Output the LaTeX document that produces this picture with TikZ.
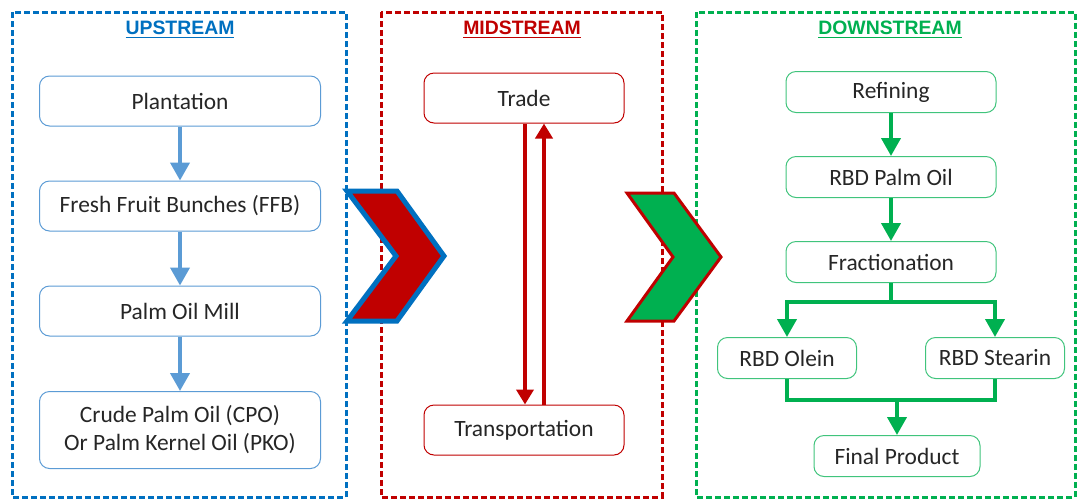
\documentclass[tikz,border=0pt]{standalone}
\usepackage{fontspec}
\setmainfont{Carlito}
\newfontfamily\headfont{Liberation Sans}
\usetikzlibrary{arrows.meta}

\definecolor{upblue}{HTML}{0070C0}
\definecolor{arrowblue}{HTML}{5B9BD5}
\definecolor{midred}{HTML}{C00000}
\definecolor{downgreen}{HTML}{00B050}
\definecolor{boxtext}{HTML}{262626}

\begin{document}
\begin{tikzpicture}[x=0.5pt, y=-0.5pt,
    stage/.style={line width=1.5pt, dash pattern=on 3pt off 1.5pt},
    header/.style={font=\headfont\bfseries\fontsize{9.7}{11}\selectfont},
    stepnode/.style={draw, rounded corners=5pt, line width=0.5pt, fill=white,
        text=boxtext, align=center, inner sep=0pt,
        font=\fontsize{11.7}{14}\selectfont},
    upbox/.style={stepnode, draw=arrowblue, minimum width=140.5pt, minimum height=25pt},
    midbox/.style={stepnode, draw=midred, minimum width=100pt, minimum height=25pt},
    downbox/.style={stepnode, draw=downgreen!75, minimum height=20.5pt},
    uparrow/.style={arrowblue, line width=2pt, -{Triangle[width=9.5pt,length=9pt]}},
    midarrow/.style={midred, line width=2pt, -{Triangle[width=8.5pt,length=7.5pt]}},
    greenline/.style={downgreen, line width=2pt},
    greenarrow/.style={greenline, -{Triangle[width=9.5pt,length=9pt]}}
]

    \useasboundingbox (0,0) rectangle (1078,500);

    % Draw stage frames
    \draw[stage, upblue] (12,12) rectangle (346,497);
    \draw[stage, midred] (381,12) rectangle (662,497);
    \draw[stage, downgreen] (696,12) rectangle (1075,497);

    \node[header, text=upblue] (uphead) at (180,30) {\underline{UPSTREAM}};
    \node[header, text=midred] (midhead) at (522,30) {\underline{MIDSTREAM}};
    \node[header, text=downgreen] (downhead) at (890,30) {\underline{DOWNSTREAM}};

    % Upstream chain
    \node[upbox] (plant) at (180,101) {Plantation};
    \node[upbox] (ffb) at (180,206) {Fresh Fruit Bunches (FFB)};
    \node[upbox] (mill) at (180,311) {Palm Oil Mill};
    \node[upbox, minimum height=38.5pt] (cpo) at (180,430)
        {Crude Palm Oil (CPO)\\Or Palm Kernel Oil (PKO)};

    \foreach \a/\b in {plant/ffb, ffb/mill, mill/cpo}
        \draw[uparrow] (\a) -- (\b);

    % Midstream
    \node[midbox] (trade) at (524,98) {Trade};
    \node[midbox] (transport) at (524,430) {Transportation};

    \draw[midarrow] ([xshift=0.5pt]trade.south) -- ([xshift=0.5pt]transport.north);
    \draw[midarrow] ([xshift=10pt]transport.north) -- ([xshift=10pt]trade.south);

    % Downstream chain
    \node[downbox, minimum width=105pt] (refine) at (891,92) {Refining};
    \node[downbox, minimum width=105pt] (rbdoil) at (891,177) {RBD Palm Oil};
    \node[downbox, minimum width=105pt] (fraction) at (891,262) {Fractionation};
    \node[downbox, minimum width=69.5pt] (olein) at (787,358) {RBD Olein};
    \node[downbox, minimum width=69.5pt] (stearin) at (995,358) {RBD Stearin};
    \node[downbox, minimum width=83pt] (final) at (897,456) {Final Product};

    \draw[greenarrow] (refine) -- (rbdoil);
    \draw[greenarrow] (rbdoil) -- (fraction);

    % Split and merge
    \coordinate (split) at (891,302);
    \coordinate (merge) at (897,400);
    \draw[greenline] (fraction.south) -- (split);
    \draw[greenarrow] (split) -| (olein.north);
    \draw[greenarrow] (split) -| (stearin.north);
    \draw[greenline] (olein.south) -- (olein.south |- merge)
        -- (stearin.south |- merge) -- (stearin.south);
    \draw[greenarrow] (merge) -- (final.north);

    % Chevrons between stages
    \draw[upblue, fill=midred, line width=2.5pt, line join=miter]
        (347,191) -- (397,191) -- (444,256) -- (397,321)
        -- (347,321) -- (396,256) -- cycle;
    \draw[midred, fill=downgreen, line width=1.5pt, line join=miter]
        (627,193) -- (674,193) -- (721,257) -- (674,321)
        -- (627,321) -- (673,257) -- cycle;

\end{tikzpicture}
\end{document}
